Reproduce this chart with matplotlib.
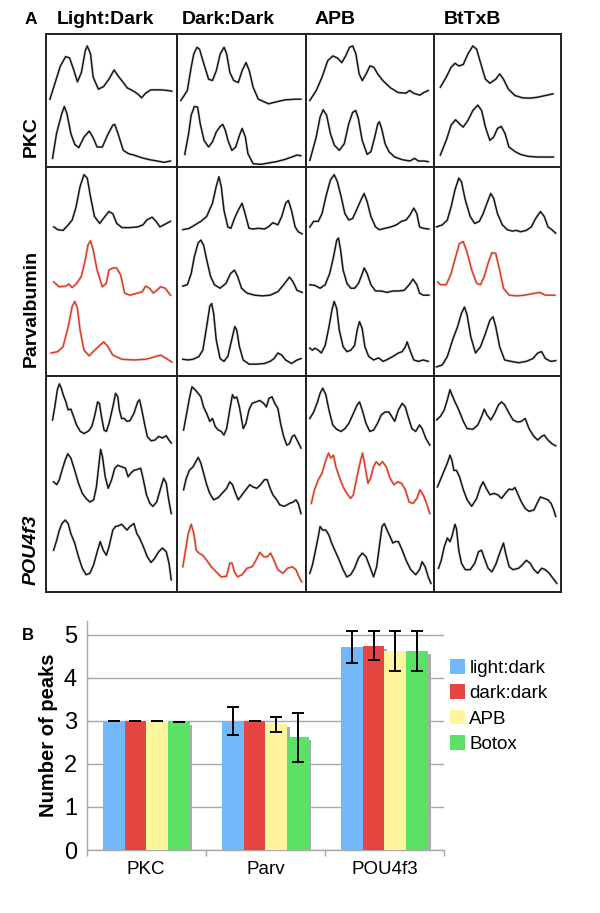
import matplotlib
matplotlib.use("Agg")
import matplotlib.pyplot as plt
from matplotlib.patches import Patch
import numpy as np

plt.rcParams['font.family'] = ['Liberation Sans', 'DejaVu Sans']

# ---- panel A: intensity profiles, (x % of cell width, y % of slot height) ----
pkc_ld_1 = [(3,2),(7,27),(11,52),(15,66),(18,64),(21,47),(24,28),(27,42),(30,75),(31.5,82),(34,70),(36,35),(40,17),(44,21),(48,32),(52,46),(55,37),(59,27),(62,19),(66,15),(70,10),(73,4),(76,11),(80,16),(88,16),(93,15),(96,14)]
pkc_ld_2 = [(5,13),(8,50),(12,80),(14,91),(16,80),(19,50),(22,34),(25,29),(29,45),(33,54),(36,44),(39,30),(43,30),(47,48),(51,63),(52.5,64),(55,50),(59,25),(63,20),(67,18),(73,14),(79,11),(85,9),(90,7),(95,9)]
pkc_dd_1 = [(3,0),(8,15),(11,50),(13,70),(15.5,80),(17.5,77),(20.5,57),(24.5,32),(27.5,30),(30.5,45),(33.5,70),(36.5,80),(38.5,70),(41,42),(44,30),(47.5,27),(50.5,45),(53.5,57),(56,45),(59,20),(63,2),(71,-5),(77,-2),(84,1),(92,2),(96,2)]
pkc_dd_2 = [(6,19),(9,50),(11,78),(13.5,91),(16,90),(18,65),(21,40),(24.5,30),(27.5,38),(30.5,53),(33.5,61),(35.5,64),(37.5,55),(39.5,40),(42.5,25),(45.5,30),(48.5,48),(50.5,58),(53,45),(55,20),(59,5),(65,4),(71,6),(77,8),(83,11),(89,15),(93,18),(96,17)]
pkc_apb_1 = [(3,0),(8,15),(12.5,35),(17,60),(21,67),(24.5,64),(28,57),(31,67),(34,80),(36.5,82),(39,70),(41.5,40),(44,30),(47,40),(50,52),(53,50),(56,40),(60,30),(66,19),(72,12),(78,11),(81,15),(84,11),(89,8),(92,12),(95.5,15)]
pkc_apb_2 = [(3,10),(8,45),(11,75),(13.4,86),(16.1,78),(19.1,50),(22.1,33),(26,25),(29.9,35),(33.4,65),(36.4,82),(38.8,85),(40.9,73),(43.9,40),(47.8,19),(50.7,23),(53.7,45),(56.1,65),(57.3,68),(59.1,58),(61.8,35),(64.8,23),(69.3,15),(75.2,11),(81.2,9),(84.8,13),(87.8,9),(92.5,9),(95.5,8)]
pkc_bt_1 = [(5,20),(9.6,35),(13.5,50),(16.5,56),(19.5,52),(23,54),(26.7,70),(30.6,82),(33.6,77),(36.6,57),(40.5,32),(44,26),(48.6,32),(51.7,40),(54.7,32),(58.6,17),(63.7,7.5),(69.7,4),(75.7,3.5),(81.7,5),(87.7,7.5),(93.7,10)]
pkc_bt_2 = [(5,18),(9.6,40),(13.5,63),(17,71),(20,65),(23,60),(26.7,70),(30.6,85),(34.5,93),(37.5,85),(40.5,60),(44,40),(47,45),(50,58),(53,61),(56,50),(59,30),(64,23),(68,19),(74,16),(82,15),(94,15)]

parv_ld_1 = [(6,14),(9,10),(13,9),(17,17),(20,24),(23,43),(26,72),(29,89),(31.5,84),(34,57),(37,29),(41,19),(45,29),(48,36),(51,33),(54,19),(58,13),(64,13),(70,14),(74,17),(77,24),(81,28),(84,22),(87,14),(90,17),(95,22)]
parv_ld_2 = [(6,35),(10,28),(15,29),(17.5,32),(20,27),(23,32),(27,43),(30,67),(32,88),(34,94),(36,81),(39,52),(43,28),(46,33),(48,52),(51,55),(54,55),(57,45),(60,19),(64,16),(70,19),(73.5,21),(76,29),(79,26),(82,19),(84.5,23),(87.5,28),(91,26),(95,16)]
parv_ld_3 = [(4,33),(9,35),(13,42),(17,71),(20,100),(22,107),(24,97),(26,66),(29,37),(33,29),(36,35),(40,42),(44,49),(47,43),(51,30),(58,24),(67,23),(76,24),(82,27),(87.5,30),(92,25),(96,20)]
parv_dd_1 = [(4.5,10),(9.6,12),(14,17),(18.5,22),(23,29),(27.5,48),(30.4,72),(32.5,86),(34.3,72),(36.4,38),(39.4,14),(41.8,12),(44.5,26),(47.5,38),(50.4,48),(52.8,33),(55.8,12),(58.8,11),(63.3,12),(67.8,11),(70.7,14),(74.3,20),(78.2,17),(81.2,29),(84.2,48),(86.3,52),(88.7,38),(91.6,14),(94,7),(97,4)]
parv_dd_2 = [(4.5,29),(8,31),(11,47),(13.4,71),(16.4,91),(18.5,95),(20.6,88),(23,67),(26,43),(29,31),(33.4,26),(38,33),(41.5,47),(44.5,52),(47,43),(50,26),(54.3,19),(60.3,16),(66.3,15),(72.2,16),(78.2,21),(82.7,31),(87.2,42),(90,35),(93,23),(97,20)]
parv_dd_3 = [(4.5,24),(8.7,23),(12.5,24),(17,28),(20,37),(23,71),(25.4,100),(26.9,104),(28.4,90),(30.4,52),(33.4,25),(36.4,21),(39.4,28),(42.4,52),(44.8,71),(46.3,66),(48.4,42),(51.3,23),(55.8,17),(61.8,17),(67.8,18),(72.2,21),(75.2,25),(78.2,33),(81.2,30),(84.2,23),(88.7,18),(93.1,23),(96.1,25)]
parv_apb_1 = [(3,14),(6,22),(9.6,22),(12.5,33),(15.5,57),(19,81),(22,89),(24.5,79),(27.5,57),(30.4,33),(33.4,24),(36.4,26),(39.4,38),(43,53),(45.4,62),(47.8,50),(50.7,29),(54.3,14),(57.3,10),(61.8,12),(66.3,14),(70.7,17),(74.6,22),(78.2,24),(81.2,31),(84.2,41),(86.6,33),(88.7,14),(91.6,12),(96,11)]
parv_apb_2 = [(3,31),(7,30),(11,26),(15,31),(18.5,47),(21.5,71),(24,95),(25.4,98),(27,81),(29,52),(32,33),(35,26),(38,26),(41,33),(44,47),(45.4,55),(47.8,47),(50.7,31),(54.3,22),(58.8,22),(63.3,20),(67.8,22),(72.2,22),(76.7,23),(80.6,31),(83.6,39),(86.6,31),(88.7,19),(91.6,16),(96,16)]
parv_apb_3 = [(3,40),(5,37),(7,40),(9.6,37),(12,33),(15,44),(18,71),(20.3,95),(22,107),(24,97),(26,66),(29,42),(32,35),(35,37),(38,44),(40,66),(41.8,78),(43.9,68),(46,42),(49,28),(52.8,23),(56.7,26),(60.3,21),(63.9,24),(67.8,28),(72.2,33),(75.2,35),(77.6,42),(79,49),(81.2,37),(84.2,23),(87.8,21),(91.6,23),(95.5,21)]
parv_bt_1 = [(2,14),(6.6,17),(10.5,24),(13.5,43),(16.5,67),(19.5,84),(21.6,79),(24.6,53),(28.5,29),(32,19),(35.7,22),(38.7,33),(41.7,48),(44.7,62),(47,55),(50,33),(53.8,17),(57.7,10),(61.6,8),(65,9),(68,7),(72.7,9),(76.6,14),(80,26),(83.8,36),(86.8,29),(89.8,14),(92.8,10),(95.8,5)]
parv_bt_2 = [(3,35),(5,31),(9.6,31),(13.5,47),(17,71),(20,90),(23,93),(26,78),(29.7,52),(33.6,33),(36.6,31),(39.6,43),(42.6,62),(45.6,77),(48.6,76),(51.7,52),(54.7,26),(59.2,16),(65.2,15),(71.2,16),(77.2,18),(83.2,20),(87.7,16),(95.2,16)]
parv_bt_3 = [(2,13),(6.6,16),(10.5,28),(14.7,52),(18.6,71),(21.6,90),(24,99),(26,88),(29,56),(32.7,33),(36.6,42),(40.5,61),(44,80),(46.5,85),(48.6,71),(51.7,42),(55.6,23),(60.7,21),(66.7,19),(72.7,21),(77.8,25),(81.7,33),(84.7,35),(87.7,25),(92,21),(95.8,22)]

pou_ld_1 = [(5,39),(6.7,57),(8.7,81),(10.2,89),(11.7,83),(13.1,74),(15.2,64),(16.9,53),(19,54),(21,44),(23.3,32),(26.2,23),(29.2,20),(32.7,24),(35,30),(37.3,46),(39.4,64),(40.8,62),(42.3,44),(44.3,25),(46.1,23),(48.1,34),(51,57),(53.1,76),(54.8,71),(56,53),(57.7,41),(59.8,41),(61.8,37),(64.1,38),(67.1,48),(70,64),(71.4,67),(72.9,55),(75.2,34),(77.3,16),(80.2,10),(83.1,11),(86,16),(88.9,14),(91.8,17),(93.9,11),(95.6,7)]
pou_ld_2 = [(5.8,53),(8.2,49),(10.2,56),(12.2,69),(14.6,83),(16.6,92),(19,86),(21.9,69),(24.8,51),(27.7,37),(30.6,30),(33.5,25),(36.4,28),(38.5,46),(40.2,74),(41.7,98),(43.1,88),(45.2,60),(47.5,44),(50.1,56),(52.5,72),(54.8,76),(57.7,74),(60.6,72),(62.7,60),(64.7,65),(67.1,69),(69.4,70),(72.3,72),(74.3,56),(76.7,35),(79.3,23),(81.6,19),(84.5,25),(87.5,44),(89.8,58),(91.8,51),(93.3,32),(95.6,9)]
pou_ld_3 = [(5.8,58),(8.2,72),(10.2,86),(12.2,95),(14.6,100),(16.9,95),(19,81),(21.9,68),(24.8,49),(27.7,33),(30.6,24),(33.5,26),(36.4,38),(39.4,58),(41.4,70),(43.7,58),(46.1,51),(48.1,63),(51,86),(53.1,91),(55.4,92),(57.7,94),(59.8,90),(61.8,86),(64.1,91),(67.1,95),(69.4,81),(71.4,75),(74.3,63),(77.3,49),(80.2,41),(83.1,47),(86,56),(88.9,61),(91.8,56),(93.9,40),(95.6,17)]
pou_dd_1 = [(5.1,25),(7.5,48),(9.6,69),(11.6,85),(14,81),(16.4,76),(18.5,71),(20.6,57),(23,48),(25.4,37),(27.5,41),(29.6,30),(31.9,25),(34.3,23),(36.4,18),(38.5,27),(40.9,53),(43,74),(44.5,69),(46.3,71),(48.4,57),(51.3,27),(53.4,34),(55.8,53),(58.2,62),(61.2,64),(64.2,66),(67.2,62),(69.3,57),(71.3,69),(73.7,71),(75.8,62),(78.2,55),(80.3,34),(82.7,16),(85.1,4),(87.2,6),(89.3,16),(91,18),(93.1,11),(96.1,0)]
pou_dd_2 = [(5.1,42),(7.2,58),(9.6,69),(12.5,74),(14.6,81),(16.4,87),(18.5,79),(20.6,65),(23,49),(25.4,37),(28.4,28),(31.9,31),(34.9,37),(38.5,44),(40.9,53),(43,49),(45.4,37),(47.5,28),(50.4,35),(53.4,42),(56.4,49),(58.8,46),(61.8,44),(64.8,49),(67.8,56),(69.9,56),(72.2,44),(74.3,35),(77.3,28),(79.7,21),(83.3,19),(87.2,23),(90.1,25),(92.2,28),(94,23),(96.1,9)]
pou_dd_3 = [(4.5,35),(6.6,58),(8.7,81),(11,94),(13.1,81),(14.9,58),(17,54),(20,51),(23,44),(26.6,35),(30.4,28),(34.3,21),(38.5,22),(40.9,40),(42.7,40),(44.5,28),(46.9,21),(50.4,24),(54.3,33),(58.2,35),(61.2,44),(64.2,55),(67.2,49),(70.1,49),(72.5,54),(75.2,44),(78.2,31),(82.1,26),(85.7,33),(89.3,35),(92.2,31),(94.6,21),(96.7,14)]
pou_apb_1 = [(3,41),(6,50),(9,64),(11,76),(13.1,83),(15.5,74),(17.9,53),(20.9,32),(23.9,26),(27.5,23),(30.4,27),(33.4,34),(37,48),(40,60),(41.8,64),(43.9,53),(46.9,34),(49.9,23),(52.8,25),(55.8,34),(58.8,46),(61.8,50),(64.8,50),(66.9,44),(69.3,37),(72.2,53),(75.2,62),(77.6,57),(79.7,44),(82.7,27),(85.7,23),(88.7,32),(90.7,27),(93.7,13),(96.7,4)]
pou_apb_2 = [(4.2,23),(6.6,42),(9.6,56),(12.5,65),(15.5,83),(17.6,93),(19.4,86),(21.5,90),(23.3,74),(26,60),(29,46),(31.9,37),(34.9,30),(37,35),(39.4,56),(42.4,81),(44.2,93),(46,76),(48.4,51),(50.4,58),(52.8,74),(54.9,81),(57.3,76),(59.7,81),(62.7,74),(65.7,58),(68.7,49),(71.6,53),(74.6,51),(77.6,42),(80.6,25),(83.6,23),(86.6,30),(89,42),(91.6,35),(94.6,21),(96.7,9)]
pou_apb_3 = [(3,26),(5.1,38),(7.2,56),(9.6,77),(11,91),(13.1,86),(15.5,86),(17.9,79),(20,68),(23,56),(26,44),(29,31),(31.9,21),(34.9,24),(37.9,33),(40.9,47),(43.9,54),(46.9,49),(49.9,35),(52.8,21),(55.2,35),(57.3,63),(59.4,91),(61.2,95),(63.3,86),(65.7,77),(67.8,68),(69.9,70),(72.2,70),(75.2,58),(78.2,44),(81.8,31),(85.7,24),(88.7,31),(90.7,42),(93.1,35),(95.5,21),(97.6,12)]
pou_bt_1 = [(2.1,39),(5.1,44),(8.1,53),(10.5,67),(12.6,81),(14.1,74),(16.5,64),(19.5,53),(23.1,37),(26.1,27),(30.6,26),(34.5,32),(37.5,44),(39.6,54),(41.7,46),(44.7,39),(47.7,48),(50.8,60),(53.2,64),(55.6,60),(59.2,48),(62.2,39),(65.8,36),(68.8,37),(71.8,41),(74.8,27),(78.7,16),(81.7,11),(84.7,16),(86.8,18),(89.8,11),(92.8,6),(95.8,3)]
pou_bt_2 = [(2.7,46),(5.1,56),(8.1,69),(10.5,79),(12.6,90),(14.1,83),(15.6,69),(17.7,69),(20.1,60),(23.1,42),(26.1,28),(29.7,19),(33.6,30),(36.6,46),(38.7,53),(41.1,44),(44.1,35),(47.1,37),(50.2,35),(53.2,30),(56.2,37),(59.2,43),(61.6,42),(63.7,45),(65.8,37),(68.8,25),(71.8,16),(74.8,12),(78.7,14),(81.7,25),(83.8,32),(86.8,30),(89.8,28),(92.2,23),(94.3,14),(95.8,5)]
pou_bt_3 = [(3.6,33),(5.7,44),(8.1,63),(10.5,75),(12.6,70),(14.1,77),(16.5,94),(17.7,88),(19.5,58),(21.6,40),(24.6,31),(28.5,31),(32.1,40),(35.1,56),(37.5,58),(39.6,47),(42.6,33),(45.6,28),(48.6,38),(51.7,54),(54.7,68),(56.8,51),(59.2,35),(62.2,31),(66.7,33),(69.7,38),(72.7,44),(75.7,40),(78.7,31),(81.7,26),(84.7,33),(87.7,31),(90.7,26),(93.7,19),(96.7,12)]

col_titles = ["Light:Dark", "Dark:Dark", "APB", "BtTxB"]
row_titles = ["PKC", "Parvalbumin", "POU4f3"]
red_traces = [parv_ld_2, parv_ld_3, parv_bt_2, pou_dd_3, pou_apb_2]

grid = [
    [[pkc_ld_1, pkc_ld_2], [pkc_dd_1, pkc_dd_2], [pkc_apb_1, pkc_apb_2], [pkc_bt_1, pkc_bt_2]],
    [[parv_ld_1, parv_ld_2, parv_ld_3], [parv_dd_1, parv_dd_2, parv_dd_3],
     [parv_apb_1, parv_apb_2, parv_apb_3], [parv_bt_1, parv_bt_2, parv_bt_3]],
    [[pou_ld_1, pou_ld_2, pou_ld_3], [pou_dd_1, pou_dd_2, pou_dd_3],
     [pou_apb_1, pou_apb_2, pou_apb_3], [pou_bt_1, pou_bt_2, pou_bt_3]],
]

# ---- panel B: number of peaks ----
genes = ["PKC", "Parv", "POU4f3"]
conditions = ["light:dark", "dark:dark", "APB", "Botox"]
peaks_light = [3.0, 3.0, 4.72]
peaks_dark = [3.0, 3.0, 4.75]
peaks_apb = [3.0, 2.92, 4.63]
peaks_botox = [2.97, 2.62, 4.63]
err_light = [0.0, 0.32, 0.37]
err_dark = [0.0, 0.0, 0.34]
err_apb = [0.0, 0.18, 0.47]
err_botox = [0.0, 0.57, 0.47]
bar_colors = ["#74b8fc", "#e64642", "#fff59c", "#5ae267"]

W, H = 600, 913
fig = plt.figure(figsize=(W / 100, H / 100), dpi=100)


def box(x0, y0, x1, y1):
    return [x0 / W, 1 - y1 / H, (x1 - x0) / W, (y1 - y0) / H]


col_edges = [46, 177, 306, 434, 561]
row_edges = [34, 167, 376, 592]

for r, row in enumerate(grid):
    for c, traces in enumerate(row):
        ax = fig.add_axes(box(col_edges[c], row_edges[r], col_edges[c + 1], row_edges[r + 1]))
        n = len(traces)
        for k, tr in enumerate(traces):
            xs = np.array([p[0] for p in tr])
            ys = np.array([p[1] for p in tr]) + (n - 1 - k) * 100
            color = "#e3391e" if any(tr is t for t in red_traces) else "#161616"
            ax.plot(xs, ys, color="#b8b8b8", lw=2.2, alpha=0.35, solid_joinstyle="round")
            ax.plot(xs, ys, color=color, lw=1.1, solid_joinstyle="round")
        ax.set_xlim(0, 100)
        ax.set_ylim(0, n * 100)
        ax.set_xticks([])
        ax.set_yticks([])
        for s in ax.spines.values():
            s.set_linewidth(1.4)
            s.set_color("#202020")

fig.text(30.5 / W, 1 - 20 / H, "A", fontsize=12.5, fontweight="bold", ha="center", va="center")
for title, xc in zip(col_titles, [105, 228, 335, 472]):
    fig.text(xc / W, 1 - 20 / H, title, fontsize=14, fontweight="bold", ha="center", va="center")
for title, yc in zip(row_titles, [137, 308, 550]):
    fig.text(31 / W, 1 - yc / H, title, fontsize=14, fontweight="bold", rotation=90,
             ha="center", va="center", style="italic" if title == "POU4f3" else "normal")

# ---- panel B ----
axb = fig.add_axes(box(86.7, 620.7, 444, 850))
series = [peaks_light, peaks_dark, peaks_apb, peaks_botox]
errors = [err_light, err_dark, err_apb, err_botox]
x = np.arange(len(genes)) + 0.5
bw = 0.182
for i, (vals, errs, col) in enumerate(zip(series, errors, bar_colors)):
    pos = x + (i - 1.5) * bw
    axb.bar(pos + 0.023, np.array(vals) - 0.07, width=bw, color="#a9a9a9", zorder=2)
for i, (vals, errs, col) in enumerate(zip(series, errors, bar_colors)):
    pos = x + (i - 1.5) * bw
    axb.bar(pos, vals, width=bw, color=col, zorder=3, label=conditions[i])
    axb.errorbar(pos, vals, yerr=errs, fmt="none", ecolor="black", elinewidth=1.4,
                 capsize=4, capthick=1.4, zorder=4)

axb.set_xlim(0, 3)
axb.set_ylim(0, 5.33)
axb.set_yticks(range(6))
axb.yaxis.grid(True, color="#a8a8a8", lw=1)
axb.set_axisbelow(True)
axb.tick_params(axis="y", length=0, pad=7, labelsize=17)
axb.set_xticks(x)
axb.set_xticklabels(genes)
axb.set_xticks([0, 1, 2, 3], minor=True)
axb.tick_params(axis="x", which="major", length=0, pad=8, labelsize=13.5)
axb.tick_params(axis="x", which="minor", length=4, color="#a8a8a8", width=1)
for side in ["top", "right"]:
    axb.spines[side].set_visible(False)
for side in ["left", "bottom"]:
    axb.spines[side].set_color("#a8a8a8")
    axb.spines[side].set_linewidth(1)
axb.set_ylabel("Number of peaks", fontsize=14.5, fontweight="bold", labelpad=4)

handles = [Patch(facecolor=c, edgecolor="none") for c in bar_colors]
axb.legend(handles, conditions, loc="upper left", bbox_to_anchor=(450 / W, 1 - 659 / H),
           bbox_transform=fig.transFigure, frameon=False, fontsize=13.5,
           handlelength=0.78, handleheight=0.83, handletextpad=0.25,
           labelspacing=0.4, borderpad=0, borderaxespad=0)

fig.text(28 / W, 1 - 635 / H, "B", fontsize=12, fontweight="bold", ha="center", va="center")

fig.savefig("out.png", dpi=100)
